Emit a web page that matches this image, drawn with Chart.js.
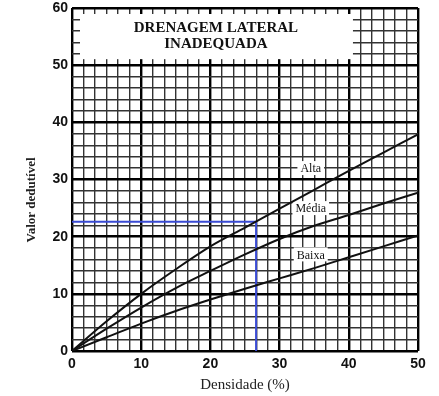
<!DOCTYPE html>
<html>
<head>
<meta charset="utf-8">
<script src="https://cdn.jsdelivr.net/npm/chart.js@4/dist/chart.umd.min.js"></script>
<style>
  body { margin: 0; background: #fff; }
  #graf { display: block; }
</style>
</head>
<body>
<canvas id="graf" width="439" height="396"></canvas>
<script>
// densidade (%) lida no eixo x
const densidade = [0, 5, 10, 15, 20, 25, 30, 35, 40, 45, 50];
// valor dedutivel por curva
const alta  = [0, 5.2, 10.0, 14.3, 18.3, 21.6, 24.9, 28.2, 31.5, 34.7, 37.9];
const media = [0, 3.9, 7.6, 11.0, 14.0, 16.9, 19.6, 21.9, 23.8, 25.8, 27.7];
const baixa = [0, 2.4, 4.8, 7.0, 9.0, 10.9, 12.7, 14.5, 16.4, 18.3, 20.2];

// leitura de exemplo (linha azul)
const exemploX = [0, 26.6, 26.6];
const exemploY = [22.6, 22.6, 0];

const nomesCurvas = ["Alta", "Média", "Baixa"];
const tituloLinhas = ["DRENAGEM LATERAL", "INADEQUADA"];
const xTickLabels = [0, 10, 20, 30, 40, 50];
const yTickLabels = [0, 10, 20, 30, 40, 50, 60];

function pontos(xs, ys) {
  return xs.map((x, i) => ({ x: x, y: ys[i] }));
}

function curva(label, valores) {
  return {
    label: label,
    data: pontos(densidade, valores),
    borderColor: "#111",
    borderWidth: 2,
    pointRadius: 0,
    cubicInterpolationMode: "monotone",
    fill: false,
  };
}

// caixa do titulo e rotulos das curvas, desenhados por cima da grade
const anotacoes = {
  id: "anotacoes",
  beforeDatasetsDraw(chart) {
    const { ctx, scales } = chart;
    const x = scales.x, y = scales.y;
    ctx.save();

    const l = x.getPixelForValue(0) + 8;
    const r = x.getPixelForValue(40.6);
    const t = y.getPixelForValue(60) + 6;
    const b = y.getPixelForValue(50) - 6;
    ctx.fillStyle = "#fff";
    ctx.fillRect(l, t, r - l, b - t);

    ctx.fillStyle = "#111";
    ctx.textAlign = "center";
    ctx.textBaseline = "middle";
    ctx.font = 'bold 15px "Liberation Serif"';
    ctx.fillText(tituloLinhas[0], x.getPixelForValue(20.8), y.getPixelForValue(56.5));
    ctx.fillText(tituloLinhas[1], x.getPixelForValue(20.8), y.getPixelForValue(53.7));

    const posY = [32.0, 25.0, 16.9];
    ctx.font = '12px "Liberation Serif"';
    nomesCurvas.forEach((nome, i) => {
      const px = x.getPixelForValue(34.5);
      const py = y.getPixelForValue(posY[i]);
      const w = ctx.measureText(nome).width + 6;
      ctx.fillStyle = "#fff";
      ctx.fillRect(px - w / 2, py - 7, w, 14);
      ctx.fillStyle = "#111";
      ctx.fillText(nome, px, py + 1);
    });
    ctx.restore();
  },
  afterDraw(chart) {
    const { ctx, chartArea } = chart;
    ctx.save();
    ctx.fillStyle = "#222";
    ctx.textAlign = "center";
    ctx.textBaseline = "middle";
    ctx.font = '15px "Liberation Serif"';
    ctx.fillText("Densidade (%)", (chartArea.left + chartArea.right) / 2, 385);
    ctx.translate(32, 200);
    ctx.rotate(-Math.PI / 2);
    ctx.font = 'bold 13px "Liberation Serif"';
    ctx.fillText("Valor dedutível", 0, 0);
    ctx.restore();
  },
};

const isMajorX = (c) => c.index % 6 === 0;
const isMajorY = (c) => c.tick && c.tick.value % 10 === 0;

new Chart(document.getElementById("graf"), {
  type: "line",
  data: {
    datasets: [
      curva(nomesCurvas[0], alta),
      curva(nomesCurvas[1], media),
      curva(nomesCurvas[2], baixa),
      {
        label: "exemplo",
        data: pontos(exemploX, exemploY),
        borderColor: "#3a4bd4",
        borderWidth: 2,
        pointRadius: 0,
        tension: 0,
        fill: false,
      },
    ],
  },
  options: {
    responsive: false,
    animation: false,
    layout: { padding: { top: 0, right: 21, left: 0, bottom: 0 } },
    plugins: {
      legend: { display: false },
      tooltip: { enabled: false },
    },
    scales: {
      x: {
        type: "linear",
        min: 0,
        max: 50,
        afterBuildTicks: (scale) => {
          const t = [];
          for (let i = 0; i <= 30; i++) t.push({ value: (i * 10) / 6 });
          scale.ticks = t;
        },
        afterFit: (scale) => {
          scale.height = 45;
          scale.paddingLeft = 0;
          scale.paddingRight = 0;
        },
        border: { display: false },
        grid: {
          drawTicks: false,
          color: (c) => (isMajorX(c) ? "#000" : "#333"),
          lineWidth: (c) => (isMajorX(c) ? 2.4 : 1.4),
        },
        ticks: {
          autoSkip: false,
          maxRotation: 0,
          padding: 5,
          color: "#111",
          font: { family: "Liberation Sans", size: 14, weight: "bold" },
          callback: (v, i) => (i % 6 === 0 ? String(xTickLabels[i / 6]) : ""),
        },
      },
      y: {
        min: 0,
        max: 60,
        afterBuildTicks: (scale) => {
          const t = [];
          for (let v = 0; v <= 60; v += 2) t.push({ value: v });
          scale.ticks = t;
        },
        afterFit: (scale) => {
          scale.width = 72;
          scale.paddingTop = 8;
          scale.paddingBottom = 0;
        },
        border: { display: false },
        grid: {
          drawTicks: false,
          color: (c) => (isMajorY(c) ? "#000" : "#333"),
          lineWidth: (c) => (isMajorY(c) ? 2.4 : 1.4),
        },
        ticks: {
          autoSkip: false,
          padding: 4,
          color: "#111",
          font: { family: "Liberation Sans", size: 14, weight: "bold" },
          callback: (v) => (v % 10 === 0 ? String(yTickLabels[v / 10]) : ""),
        },
      },
    },
  },
  plugins: [anotacoes],
});
</script>
</body>
</html>
